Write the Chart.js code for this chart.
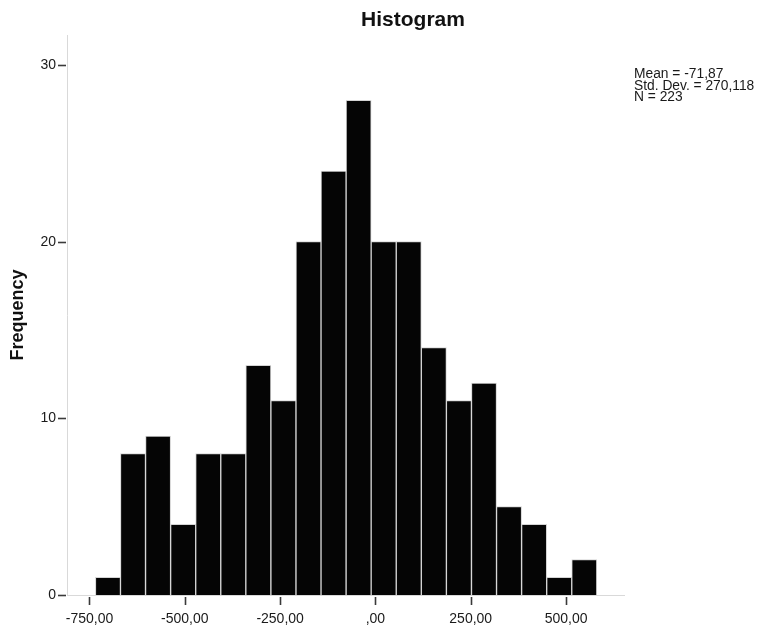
<!DOCTYPE html>
<html>
<head>
<meta charset="utf-8">
<script src="https://cdn.jsdelivr.net/npm/chart.js@4"></script>
<style>
  html, body { margin: 0; padding: 0; background: #ffffff; }
  #wrap { width: 764px; height: 628px; }
</style>
</head>
<body>
<div id="wrap"><canvas id="c" width="764" height="628"></canvas></div>
<script>
// ---- data ----
const chartTitle = 'Histogram';
const yAxisTitle = 'Frequency';
const binCenters = [-701.6, -635.9, -570.1, -504.3, -438.6, -372.8, -307.1, -241.3, -175.5, -109.8,
                    -44.0, 21.7, 87.5, 153.3, 219.0, 284.8, 350.5, 416.3, 482.1, 547.8];
const frequencies = [1, 8, 9, 4, 8, 8, 13, 11, 20, 24, 28, 20, 20, 14, 11, 12, 5, 4, 1, 2];
const xTickValues = [-750, -500, -250, 0, 250, 500];
const xTickLabels = ['-750,00', '-500,00', '-250,00', ',00', '250,00', '500,00'];
const yTickValues = [0, 10, 20, 30];
const yTickLabels = ['0', '10', '20', '30'];
const statsLines = ['Mean = -71,87', 'Std. Dev. = 270,118', 'N = 223'];

const FONT = '"Liberation Sans", Arial, sans-serif';

const points = binCenters.map((x, i) => ({ x: x, y: frequencies[i] }));

const decorPlugin = {
  id: 'decor',
  afterDraw(chart) {
    const ctx = chart.ctx;
    const xs = chart.scales.x, ys = chart.scales.y;
    const area = chart.chartArea;
    ctx.save();
    // tick marks
    ctx.strokeStyle = '#3a3a3a';
    ctx.lineWidth = 1.6;
    xTickValues.forEach(v => {
      const px = Math.round(xs.getPixelForValue(v)) + 0.5;
      ctx.beginPath();
      ctx.moveTo(px, area.bottom + 2);
      ctx.lineTo(px, area.bottom + 10);
      ctx.stroke();
    });
    yTickValues.forEach(v => {
      const py = Math.round(ys.getPixelForValue(v)) + 0.5;
      ctx.beginPath();
      ctx.moveTo(area.left - 9, py);
      ctx.lineTo(area.left - 1, py);
      ctx.stroke();
    });
    // title
    ctx.fillStyle = '#111111';
    ctx.font = 'bold 21px ' + FONT;
    ctx.textAlign = 'center';
    ctx.textBaseline = 'alphabetic';
    ctx.fillText(chartTitle, 413, 26);
    // stats box
    ctx.font = '13.8px ' + FONT;
    ctx.textAlign = 'left';
    ctx.fillStyle = '#1a1a1a';
    statsLines.forEach((s, i) => ctx.fillText(s, 634, 78 + i * 11.7));
    ctx.restore();
  }
};

new Chart(document.getElementById('c'), {
  type: 'bar',
  data: {
    datasets: [{
      data: points,
      backgroundColor: '#050505',
      borderColor: '#d4d4d4',
      borderWidth: 1,
      barPercentage: 1.0,
      categoryPercentage: 1.0
    }]
  },
  options: {
    responsive: false,
    devicePixelRatio: 1,
    animation: false,
    events: [],
    layout: { padding: { top: 35, right: 140, bottom: 0, left: 0 } },
    plugins: { legend: { display: false }, tooltip: { enabled: false }, title: { display: false } },
    scales: {
      x: {
        type: 'linear',
        min: -809,
        max: 652,
        offset: false,
        grid: { display: false, drawTicks: false },
        border: { display: true, color: '#d9d9d9', width: 1 },
        afterBuildTicks(scale) { scale.ticks = xTickValues.map(v => ({ value: v })); },
        afterFit(scale) { scale.height = 33; },
        ticks: {
          autoSkip: false,
          maxRotation: 0,
          padding: 16,
          color: '#1a1a1a',
          font: { family: FONT, size: 14 },
          callback: (v) => { const i = xTickValues.indexOf(v); return i >= 0 ? xTickLabels[i] : ''; }
        }
      },
      y: {
        type: 'linear',
        min: 0,
        max: 31.7,
        grid: { display: false, drawTicks: false },
        border: { display: true, color: '#d9d9d9', width: 1 },
        afterBuildTicks(scale) { scale.ticks = yTickValues.map(v => ({ value: v })); },
        afterFit(scale) { scale.width = 67; },
        title: {
          display: true,
          text: yAxisTitle,
          color: '#111111',
          font: { family: FONT, size: 18, weight: 'bold' },
          padding: { top: 7, bottom: 0 }
        },
        ticks: {
          autoSkip: false,
          padding: 11,
          color: '#1a1a1a',
          font: { family: FONT, size: 14 },
          callback: (v) => { const i = yTickValues.indexOf(v); return i >= 0 ? yTickLabels[i] : ''; }
        }
      }
    }
  },
  plugins: [decorPlugin]
});
</script>
</body>
</html>
